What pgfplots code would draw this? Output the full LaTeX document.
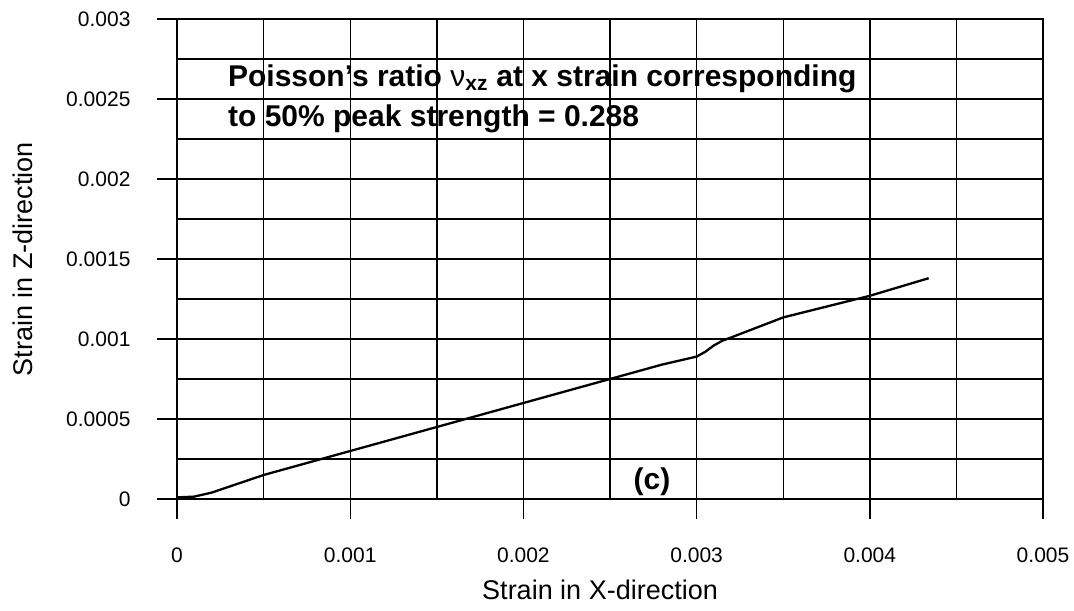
\documentclass[border=0pt]{standalone}
\usepackage{fontspec}
\setmainfont{Liberation Sans}
\usepackage{pgfplots}
\pgfplotsset{compat=1.18}
\begin{document}
\begin{tikzpicture}
\begin{axis}[
  scale only axis,
  width=866pt, height=480pt,
  xmin=0, xmax=0.005, ymin=0, ymax=0.003,
  xtick={0,0.001,0.002,0.003,0.004,0.005},
  xticklabels={0,0.001,0.002,0.003,0.004,0.005},
  minor xtick={0.0005,0.0015,0.0025,0.0035,0.0045},
  ytick={0,0.0005,0.001,0.0015,0.002,0.0025,0.003},
  yticklabels={0,0.0005,0.001,0.0015,0.002,0.0025,0.003},
  minor ytick={0.00025,0.00075,0.00125,0.00175,0.00225,0.00275},
  scaled ticks=false,
  grid=both,
  grid style={black, line width=1.4pt},
  major grid style={black, line width=1.4pt},
  minor grid style={black, line width=1.4pt},
  axis line style={black, line width=1.4pt},
  tick align=outside,
  major tick length=20pt,
  minor tick length=0pt,
  tick style={black, line width=1.4pt},
  xtick pos=bottom, ytick pos=left,
  tick label style={font=\fontsize{21}{24}\selectfont},
  xticklabel style={font=\fontsize{21}{24}\selectfont, anchor=base, yshift=-43pt},
  yticklabel style={font=\fontsize{21}{24}\selectfont, xshift=-23pt},
  xlabel={Strain in X-direction},
  ylabel={Strain in Z-direction},
  xlabel style={font=\fontsize{27}{30}\selectfont, at={(axis description cs:0.4885,-0.209)}, anchor=base},
  ylabel style={font=\fontsize{27}{30}\selectfont, at={(axis description cs:-0.1674,0.5)}, anchor=base, rotate=0},
  clip=false,
]
\addplot[black, line width=2.3pt] coordinates {
(0,0.00001) (0.0001,0.000015) (0.0002,0.00004) (0.0005,0.00015) (0.001,0.0003)
(0.0015,0.00045) (0.002,0.0006) (0.0025,0.00075) (0.0028,0.00084) (0.003,0.00089)
(0.00305,0.00092) (0.0031,0.00096) (0.00315,0.00099) (0.0032,0.00101)
(0.0035,0.001135) (0.004,0.00127) (0.00434,0.00138)
};
\node[anchor=base west, align=left, inner sep=0pt, font=\bfseries\fontsize{30}{40}\selectfont]
  at (axis cs:0.000294,0.002325) {Poisson's ratio {\mdseries ν}\textsubscript{xz} at x strain corresponding\\to 50\% peak strength = 0.288};
\node[anchor=center, inner sep=0pt, font=\bfseries\fontsize{30}{36}\selectfont]
  at (axis cs:0.002742,0.000106) {(c)};
\path (rel axis cs:0,0) ++(-177pt,-111pt) coordinate (bl);
\path (rel axis cs:1,1) ++(31pt,19pt) coordinate (tr);
\path (bl) rectangle (tr);
\end{axis}
\end{tikzpicture}
\end{document}
